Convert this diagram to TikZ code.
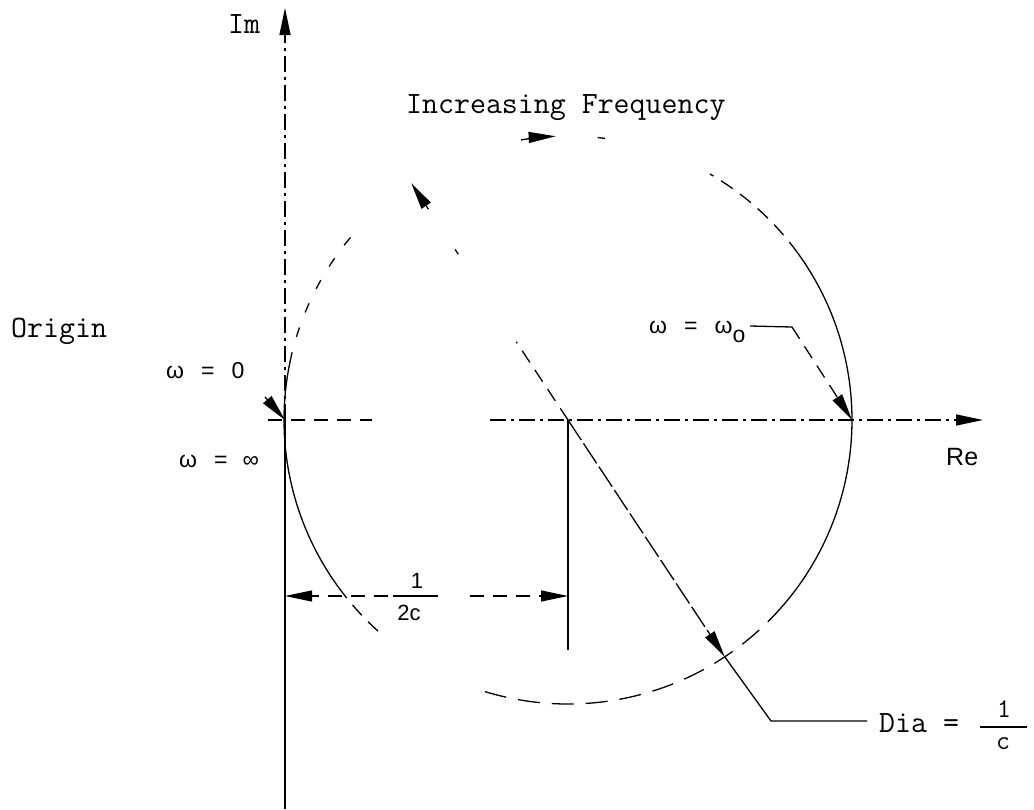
\documentclass[tikz,border=0pt]{standalone}
\usepackage{fontspec}
\newfontfamily\sansf{Liberation Sans}
\usetikzlibrary{arrows.meta,calc}
\tikzset{
  ln/.style={line width=1.3pt},
  ctr/.style={ln, dash pattern=on 16pt off 5pt on 3pt off 5pt},
  dsh/.style={ln, dash pattern=on 14pt off 9pt},
  tip/.style={-{Triangle[length=27pt,width=11pt]}},
  tt/.style={font=\fontsize{31}{35}\selectfont\ttfamily, inner sep=0pt},
  ttf/.style={font=\fontsize{27}{30}\selectfont\ttfamily, inner sep=0pt},
  sf/.style={font=\fontsize{23}{27}\selectfont\sansf, inner sep=0pt},
  sfr/.style={font=\fontsize{25}{29}\selectfont\sansf, inner sep=0pt},
  sff/.style={font=\fontsize{22}{26}\selectfont\sansf, inner sep=0pt},
}
\begin{document}
\begin{tikzpicture}[x=1pt,y=-1pt]
\useasboundingbox (0,0) rectangle (1034,809);
% key points
\coordinate (C) at (568,420);
\coordinate (O) at (285,420);
\coordinate (W0) at (852,420);
% Im axis
\coordinate (ImBot) at (285,809);
\coordinate (ImTop) at (285,8);
\draw[ln] (O) -- (ImBot);
\draw[ctr, tip] (O) -- (ImTop);
% Re axis
\coordinate (ReL) at (268,420);
\coordinate (ReGapL) at (372,420);
\coordinate (ReGapR) at (490,420);
\coordinate (ReTip) at (983,420);
\draw[dsh] (ReL) -- (ReGapL);
\draw[ctr, tip] (ReGapR) -- (ReTip);
% circle (as it survives in the drawing)
\draw[ln] ($(C)+(180:284pt)$) arc[start angle=180, end angle=216, radius=284pt];
\draw[dsh] ($(C)+(216:284pt)$) arc[start angle=216, end angle=228, radius=284pt];
\draw[ln, dash pattern=on 22pt off 12pt] ($(C)+(253:284pt)$) arc[start angle=253, end angle=318.5, radius=284pt];
\draw[ln] ($(C)+(318.5:284pt)$) arc[start angle=318.5, end angle=396, radius=284pt];
\draw[dsh] ($(C)+(36:284pt)$) arc[start angle=36, end angle=60, radius=284pt];
\draw[ln] ($(C)+(84:284pt)$) arc[start angle=84, end angle=82.5, radius=284pt];
\draw[ln, dash pattern=on 10pt off 16pt] ($(C)+(140:284pt)$) arc[start angle=140, end angle=168, radius=284pt];
\draw[ln] ($(C)+(168:284pt)$) arc[start angle=168, end angle=180, radius=284pt];
% increasing frequency arrow on the circle
\draw[ln, tip] ($(C)+(99.5:284pt)$) arc[start angle=99.5, end angle=92.5, radius=284pt];
% vertical from centre
\coordinate (Cb) at (568,650);
\draw[ln] (C) -- (Cb);
% 1/2c dimension
\coordinate (DL) at (285,596);
\coordinate (DR) at (568,596);
\coordinate (FL) at (388,596);
\coordinate (FR) at (470,596);
\draw[dsh, tip] (FL) -- (DL);
\draw[dsh, tip] (FR) -- (DR);
\coordinate (BarL) at (393,596);
\coordinate (BarR) at (438,596);
\draw[ln] (BarL) -- (BarR);
\node[sff] (hnum) at (417,581) {1};
\node[sff] (hden) at (409,613) {2c};
% diameter
\coordinate (P1) at ($(C)+(123.5:284pt)$);
\coordinate (P2) at ($(C)+(303.5:284pt)$);
\coordinate (K) at (771,721);
\coordinate (E) at (867,721);
\draw[ln, dash pattern=on 24pt off 4pt, tip] (C) -- (P2);
\draw[ln] (P2) -- (K) -- (E);
\draw[dsh] (C) -- ($(C)!0.33!(P1)$);
\draw[ln] ($(C)!0.70!(P1)$) -- ($(C)!0.72!(P1)$);
\draw[ln, tip] ($(C)!0.89!(P1)$) -- (P1);
% omega_0 leader
\coordinate (L1) at (750,326);
\coordinate (L2) at (792,327);
\draw[ln] (L1) -- (L2);
\draw[dsh, tip] (L2) -- (W0);
% omega = 0 arrow
\coordinate (A0) at (265,397);
\draw[ln, tip] (A0) -- (O);
% labels
\node[tt, anchor=base west] (im) at (228,33) {Im};
\node[tt, anchor=base west] (inc) at (406,113) {Increasing Frequency};
\node[tt, anchor=base west] (orig) at (11,337) {Origin};
\node[sf, anchor=base west] (wz) at (166,378) {ω\hspace{17pt}=\hspace{17pt}0};
\node[sf, anchor=base west] (wi) at (179,467) {ω\hspace{17pt}=\hspace{15pt}∞};
\node[sf, anchor=base west] (wo) at (649,333) {ω\hspace{17pt}=\hspace{17pt}ω\raisebox{-9pt}{o}};
\node[sfr, anchor=base west] (re) at (946,465) {Re};
\node[tt, anchor=base west] (dia) at (879,732) {Dia =};
\coordinate (DBL) at (980,727);
\coordinate (DBR) at (1027,727);
\draw[ln] (DBL) -- (DBR);
\node[ttf] (dnum) at (1004,709) {1};
\node[ttf] (dden) at (1003,744) {c};
\end{tikzpicture}
\end{document}
